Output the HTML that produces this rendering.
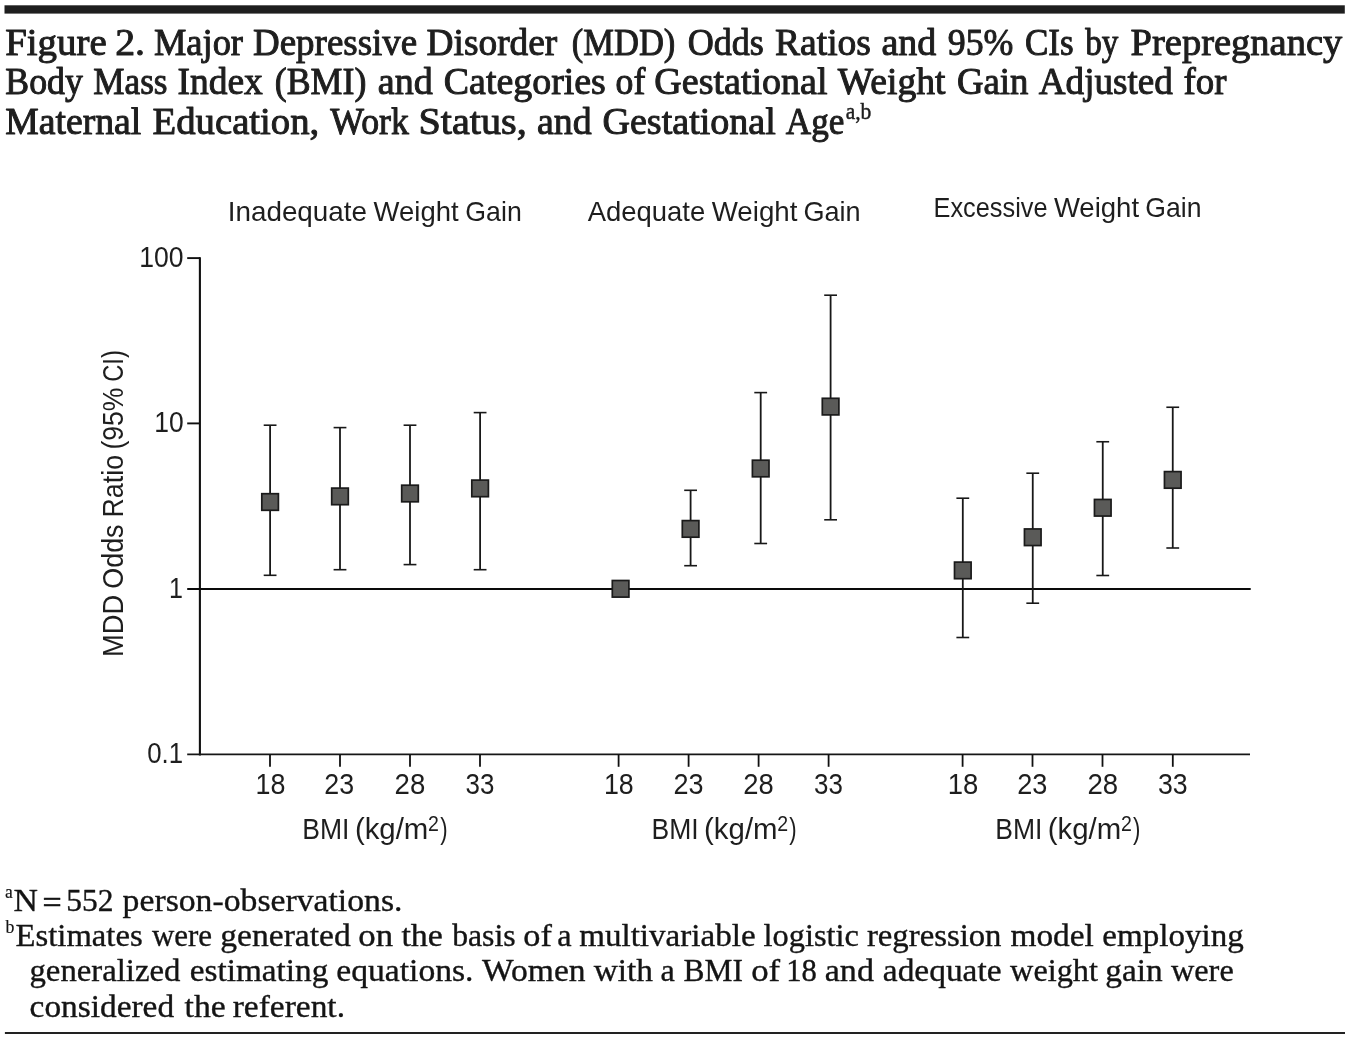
<!DOCTYPE html>
<html lang="en">
<head>
<meta charset="utf-8">
<title>Figure 2. Major Depressive Disorder (MDD) Odds Ratios</title>
<style>
html,body{margin:0;padding:0;background:#fff;}
body{width:1349px;height:1039px;overflow:hidden;}
svg{display:block;}
text{white-space:pre;}
</style>
</head>
<body>
<svg width="1349" height="1039" viewBox="0 0 1349 1039">
<rect x="0" y="0" width="1349" height="1039" fill="#ffffff"/>
<rect x="4.5" y="5.3" width="1340.3" height="8.3" fill="#1e1e1e"/>
<rect x="4.9" y="1032.1" width="1340.1" height="1.8" fill="#0a0a0a"/>
<g fill="#1e1e1e"><text x="5.18" y="55.1" font-family="'Liberation Serif', serif" font-size="38.7" stroke="#1e1e1e" stroke-width="1.0" stroke-linejoin="round" textLength="101.47" lengthAdjust="spacingAndGlyphs">Figure</text> <text x="115.15" y="55.1" font-family="'Liberation Serif', serif" font-size="38.7" stroke="#1e1e1e" stroke-width="1.0" stroke-linejoin="round" textLength="29.88" lengthAdjust="spacingAndGlyphs">2.</text> <text x="153.95" y="55.1" font-family="'Liberation Serif', serif" font-size="38.7" stroke="#1e1e1e" stroke-width="1.0" stroke-linejoin="round" textLength="89.07" lengthAdjust="spacingAndGlyphs">Major</text> <text x="253.04" y="55.1" font-family="'Liberation Serif', serif" font-size="38.7" stroke="#1e1e1e" stroke-width="1.0" stroke-linejoin="round" textLength="164.15" lengthAdjust="spacingAndGlyphs">Depressive</text> <text x="426.62" y="55.1" font-family="'Liberation Serif', serif" font-size="38.7" stroke="#1e1e1e" stroke-width="1.0" stroke-linejoin="round" textLength="130.70" lengthAdjust="spacingAndGlyphs">Disorder</text> <text x="571.78" y="55.1" font-family="'Liberation Serif', serif" font-size="38.7" stroke="#1e1e1e" stroke-width="1.0" stroke-linejoin="round" textLength="103.53" lengthAdjust="spacingAndGlyphs">(MDD)</text> <text x="687.72" y="55.1" font-family="'Liberation Serif', serif" font-size="38.7" stroke="#1e1e1e" stroke-width="1.0" stroke-linejoin="round" textLength="76.08" lengthAdjust="spacingAndGlyphs">Odds</text> <text x="775.02" y="55.1" font-family="'Liberation Serif', serif" font-size="38.7" stroke="#1e1e1e" stroke-width="1.0" stroke-linejoin="round" textLength="95.94" lengthAdjust="spacingAndGlyphs">Ratios</text> <text x="881.47" y="55.1" font-family="'Liberation Serif', serif" font-size="38.7" stroke="#1e1e1e" stroke-width="1.0" stroke-linejoin="round" textLength="54.80" lengthAdjust="spacingAndGlyphs">and</text> <text x="947.75" y="55.1" font-family="'Liberation Serif', serif" font-size="38.7" stroke="#1e1e1e" stroke-width="1.0" stroke-linejoin="round" textLength="65.58" lengthAdjust="spacingAndGlyphs">95%</text> <text x="1024.96" y="55.1" font-family="'Liberation Serif', serif" font-size="38.7" stroke="#1e1e1e" stroke-width="1.0" stroke-linejoin="round" textLength="48.70" lengthAdjust="spacingAndGlyphs">CIs</text> <text x="1085.30" y="55.1" font-family="'Liberation Serif', serif" font-size="38.7" stroke="#1e1e1e" stroke-width="1.0" stroke-linejoin="round" textLength="33.13" lengthAdjust="spacingAndGlyphs">by</text> <text x="1130.59" y="55.1" font-family="'Liberation Serif', serif" font-size="38.7" stroke="#1e1e1e" stroke-width="1.0" stroke-linejoin="round" textLength="211.66" lengthAdjust="spacingAndGlyphs">Prepregnancy</text></g>
<g fill="#1e1e1e"><text x="5.27" y="94.4" font-family="'Liberation Serif', serif" font-size="38.7" stroke="#1e1e1e" stroke-width="1.0" stroke-linejoin="round" textLength="77.57" lengthAdjust="spacingAndGlyphs">Body</text> <text x="93.29" y="94.4" font-family="'Liberation Serif', serif" font-size="38.7" stroke="#1e1e1e" stroke-width="1.0" stroke-linejoin="round" textLength="74.28" lengthAdjust="spacingAndGlyphs">Mass</text> <text x="177.55" y="94.4" font-family="'Liberation Serif', serif" font-size="38.7" stroke="#1e1e1e" stroke-width="1.0" stroke-linejoin="round" textLength="85.31" lengthAdjust="spacingAndGlyphs">Index</text> <text x="274.72" y="94.4" font-family="'Liberation Serif', serif" font-size="38.7" stroke="#1e1e1e" stroke-width="1.0" stroke-linejoin="round" textLength="91.65" lengthAdjust="spacingAndGlyphs">(BMI)</text> <text x="377.76" y="94.4" font-family="'Liberation Serif', serif" font-size="38.7" stroke="#1e1e1e" stroke-width="1.0" stroke-linejoin="round" textLength="55.00" lengthAdjust="spacingAndGlyphs">and</text> <text x="443.85" y="94.4" font-family="'Liberation Serif', serif" font-size="38.7" stroke="#1e1e1e" stroke-width="1.0" stroke-linejoin="round" textLength="162.02" lengthAdjust="spacingAndGlyphs">Categories</text> <text x="615.54" y="94.4" font-family="'Liberation Serif', serif" font-size="38.7" stroke="#1e1e1e" stroke-width="1.0" stroke-linejoin="round" textLength="29.76" lengthAdjust="spacingAndGlyphs">of</text> <text x="654.34" y="94.4" font-family="'Liberation Serif', serif" font-size="38.7" stroke="#1e1e1e" stroke-width="1.0" stroke-linejoin="round" textLength="173.22" lengthAdjust="spacingAndGlyphs">Gestational</text> <text x="837.86" y="94.4" font-family="'Liberation Serif', serif" font-size="38.7" stroke="#1e1e1e" stroke-width="1.0" stroke-linejoin="round" textLength="107.66" lengthAdjust="spacingAndGlyphs">Weight</text> <text x="956.89" y="94.4" font-family="'Liberation Serif', serif" font-size="38.7" stroke="#1e1e1e" stroke-width="1.0" stroke-linejoin="round" textLength="71.46" lengthAdjust="spacingAndGlyphs">Gain</text> <text x="1038.84" y="94.4" font-family="'Liberation Serif', serif" font-size="38.7" stroke="#1e1e1e" stroke-width="1.0" stroke-linejoin="round" textLength="133.91" lengthAdjust="spacingAndGlyphs">Adjusted</text> <text x="1183.47" y="94.4" font-family="'Liberation Serif', serif" font-size="38.7" stroke="#1e1e1e" stroke-width="1.0" stroke-linejoin="round" textLength="42.96" lengthAdjust="spacingAndGlyphs">for</text></g>
<g fill="#1e1e1e"><text x="5.21" y="134.0" font-family="'Liberation Serif', serif" font-size="38.7" stroke="#1e1e1e" stroke-width="1.0" stroke-linejoin="round" textLength="136.14" lengthAdjust="spacingAndGlyphs">Maternal</text> <text x="152.58" y="134.0" font-family="'Liberation Serif', serif" font-size="38.7" stroke="#1e1e1e" stroke-width="1.0" stroke-linejoin="round" textLength="166.65" lengthAdjust="spacingAndGlyphs">Education,</text> <text x="330.27" y="134.0" font-family="'Liberation Serif', serif" font-size="38.7" stroke="#1e1e1e" stroke-width="1.0" stroke-linejoin="round" textLength="78.63" lengthAdjust="spacingAndGlyphs">Work</text> <text x="418.51" y="134.0" font-family="'Liberation Serif', serif" font-size="38.7" stroke="#1e1e1e" stroke-width="1.0" stroke-linejoin="round" textLength="108.32" lengthAdjust="spacingAndGlyphs">Status,</text> <text x="537.07" y="134.0" font-family="'Liberation Serif', serif" font-size="38.7" stroke="#1e1e1e" stroke-width="1.0" stroke-linejoin="round" textLength="54.59" lengthAdjust="spacingAndGlyphs">and</text> <text x="602.44" y="134.0" font-family="'Liberation Serif', serif" font-size="38.7" stroke="#1e1e1e" stroke-width="1.0" stroke-linejoin="round" textLength="173.42" lengthAdjust="spacingAndGlyphs">Gestational</text> <text x="785.86" y="134.0" font-family="'Liberation Serif', serif" font-size="38.7" stroke="#1e1e1e" stroke-width="1.0" stroke-linejoin="round" textLength="58.56" lengthAdjust="spacingAndGlyphs">Age</text></g>
<g fill="#1e1e1e"><text x="845.69" y="119.4" font-family="'Liberation Serif', serif" font-size="24" stroke="#1e1e1e" stroke-width="0.5" stroke-linejoin="round" textLength="25.68" lengthAdjust="spacingAndGlyphs">a,b</text></g>
<g fill="#1e1e1e"><text x="227.73" y="220.8" font-family="'Liberation Sans', sans-serif" font-size="28.5" textLength="139.31" lengthAdjust="spacingAndGlyphs">Inadequate</text> <text x="373.58" y="220.8" font-family="'Liberation Sans', sans-serif" font-size="28.5" textLength="85.02" lengthAdjust="spacingAndGlyphs">Weight</text> <text x="465.36" y="220.8" font-family="'Liberation Sans', sans-serif" font-size="28.5" textLength="56.38" lengthAdjust="spacingAndGlyphs">Gain</text></g>
<g fill="#1e1e1e"><text x="587.75" y="220.8" font-family="'Liberation Sans', sans-serif" font-size="28.5" textLength="117.47" lengthAdjust="spacingAndGlyphs">Adequate</text> <text x="711.68" y="220.8" font-family="'Liberation Sans', sans-serif" font-size="28.5" textLength="85.72" lengthAdjust="spacingAndGlyphs">Weight</text> <text x="803.44" y="220.8" font-family="'Liberation Sans', sans-serif" font-size="28.5" textLength="57.22" lengthAdjust="spacingAndGlyphs">Gain</text></g>
<g fill="#1e1e1e"><text x="933.52" y="217.3" font-family="'Liberation Sans', sans-serif" font-size="28.5" textLength="114.00" lengthAdjust="spacingAndGlyphs">Excessive</text> <text x="1053.88" y="217.3" font-family="'Liberation Sans', sans-serif" font-size="28.5" textLength="85.22" lengthAdjust="spacingAndGlyphs">Weight</text> <text x="1145.36" y="217.3" font-family="'Liberation Sans', sans-serif" font-size="28.5" textLength="56.16" lengthAdjust="spacingAndGlyphs">Gain</text></g>
<line x1="199.9" y1="257.2" x2="199.9" y2="755.4" stroke="#101010" stroke-width="2.1"/>
<line x1="187.2" y1="754.4" x2="1250" y2="754.4" stroke="#161616" stroke-width="1.9"/>
<line x1="187.2" y1="258.1" x2="200" y2="258.1" stroke="#101010" stroke-width="1.9"/>
<line x1="187.2" y1="423.4" x2="200" y2="423.4" stroke="#101010" stroke-width="1.9"/>
<line x1="187.2" y1="589.0" x2="1250.7" y2="589.0" stroke="#0a0a0a" stroke-width="1.9"/>
<line x1="270" y1="754.4" x2="270" y2="766.8" stroke="#101010" stroke-width="1.8"/>
<line x1="340" y1="754.4" x2="340" y2="766.8" stroke="#101010" stroke-width="1.8"/>
<line x1="410" y1="754.4" x2="410" y2="766.8" stroke="#101010" stroke-width="1.8"/>
<line x1="480" y1="754.4" x2="480" y2="766.8" stroke="#101010" stroke-width="1.8"/>
<line x1="618.6" y1="754.4" x2="618.6" y2="766.8" stroke="#101010" stroke-width="1.8"/>
<line x1="688.6" y1="754.4" x2="688.6" y2="766.8" stroke="#101010" stroke-width="1.8"/>
<line x1="758.6" y1="754.4" x2="758.6" y2="766.8" stroke="#101010" stroke-width="1.8"/>
<line x1="828.6" y1="754.4" x2="828.6" y2="766.8" stroke="#101010" stroke-width="1.8"/>
<line x1="962.6" y1="754.4" x2="962.6" y2="766.8" stroke="#101010" stroke-width="1.8"/>
<line x1="1032.5" y1="754.4" x2="1032.5" y2="766.8" stroke="#101010" stroke-width="1.8"/>
<line x1="1102.5" y1="754.4" x2="1102.5" y2="766.8" stroke="#101010" stroke-width="1.8"/>
<line x1="1172.8" y1="754.4" x2="1172.8" y2="766.8" stroke="#101010" stroke-width="1.8"/>
<g fill="#1e1e1e"><text x="139.27" y="266.7" font-family="'Liberation Sans', sans-serif" font-size="28.8" textLength="44.36" lengthAdjust="spacingAndGlyphs">100</text></g>
<g fill="#1e1e1e"><text x="154.28" y="432.1" font-family="'Liberation Sans', sans-serif" font-size="28.8" textLength="29.45" lengthAdjust="spacingAndGlyphs">10</text></g>
<g fill="#1e1e1e"><text x="169.09" y="597.9" font-family="'Liberation Sans', sans-serif" font-size="28.8" textLength="13.93" lengthAdjust="spacingAndGlyphs">1</text></g>
<g fill="#1e1e1e"><text x="147.19" y="763.1" font-family="'Liberation Sans', sans-serif" font-size="28.8" textLength="35.87" lengthAdjust="spacingAndGlyphs">0.1</text></g>
<g fill="#1e1e1e"><text x="255.45" y="793.6" font-family="'Liberation Sans', sans-serif" font-size="30" textLength="29.92" lengthAdjust="spacingAndGlyphs">18</text> <text x="324.35" y="793.6" font-family="'Liberation Sans', sans-serif" font-size="30" textLength="29.83" lengthAdjust="spacingAndGlyphs">23</text> <text x="394.61" y="793.6" font-family="'Liberation Sans', sans-serif" font-size="30" textLength="30.69" lengthAdjust="spacingAndGlyphs">28</text> <text x="465.51" y="793.6" font-family="'Liberation Sans', sans-serif" font-size="30" textLength="28.83" lengthAdjust="spacingAndGlyphs">33</text> <text x="603.96" y="793.6" font-family="'Liberation Sans', sans-serif" font-size="30" textLength="29.81" lengthAdjust="spacingAndGlyphs">18</text> <text x="673.44" y="793.6" font-family="'Liberation Sans', sans-serif" font-size="30" textLength="30.05" lengthAdjust="spacingAndGlyphs">23</text> <text x="743.32" y="793.6" font-family="'Liberation Sans', sans-serif" font-size="30" textLength="30.47" lengthAdjust="spacingAndGlyphs">28</text> <text x="814.01" y="793.6" font-family="'Liberation Sans', sans-serif" font-size="30" textLength="28.83" lengthAdjust="spacingAndGlyphs">33</text> <text x="947.71" y="793.6" font-family="'Liberation Sans', sans-serif" font-size="30" textLength="30.59" lengthAdjust="spacingAndGlyphs">18</text> <text x="1017.24" y="793.6" font-family="'Liberation Sans', sans-serif" font-size="30" textLength="30.15" lengthAdjust="spacingAndGlyphs">23</text> <text x="1087.51" y="793.6" font-family="'Liberation Sans', sans-serif" font-size="30" textLength="30.69" lengthAdjust="spacingAndGlyphs">28</text> <text x="1157.88" y="793.6" font-family="'Liberation Sans', sans-serif" font-size="30" textLength="29.69" lengthAdjust="spacingAndGlyphs">33</text></g>
<g fill="#1e1e1e"><text x="302.33" y="839.4" font-family="'Liberation Sans', sans-serif" font-size="30.0" textLength="47.12" lengthAdjust="spacingAndGlyphs">BMI</text> <text x="354.88" y="839.4" font-family="'Liberation Sans', sans-serif" font-size="30.0" textLength="73.46" lengthAdjust="spacingAndGlyphs">(kg/m</text><text x="428.02" y="830.6" font-family="'Liberation Sans', sans-serif" font-size="21.5" textLength="10.87" lengthAdjust="spacingAndGlyphs">2</text><text x="440.17" y="839.4" font-family="'Liberation Sans', sans-serif" font-size="30.0" textLength="7.41" lengthAdjust="spacingAndGlyphs">)</text></g>
<g fill="#1e1e1e"><text x="651.53" y="839.4" font-family="'Liberation Sans', sans-serif" font-size="30.0" textLength="47.12" lengthAdjust="spacingAndGlyphs">BMI</text> <text x="704.08" y="839.4" font-family="'Liberation Sans', sans-serif" font-size="30.0" textLength="73.46" lengthAdjust="spacingAndGlyphs">(kg/m</text><text x="777.22" y="830.6" font-family="'Liberation Sans', sans-serif" font-size="21.5" textLength="10.87" lengthAdjust="spacingAndGlyphs">2</text><text x="789.37" y="839.4" font-family="'Liberation Sans', sans-serif" font-size="30.0" textLength="7.41" lengthAdjust="spacingAndGlyphs">)</text></g>
<g fill="#1e1e1e"><text x="995.23" y="839.4" font-family="'Liberation Sans', sans-serif" font-size="30.0" textLength="47.12" lengthAdjust="spacingAndGlyphs">BMI</text> <text x="1047.78" y="839.4" font-family="'Liberation Sans', sans-serif" font-size="30.0" textLength="73.46" lengthAdjust="spacingAndGlyphs">(kg/m</text><text x="1120.92" y="830.6" font-family="'Liberation Sans', sans-serif" font-size="21.5" textLength="10.87" lengthAdjust="spacingAndGlyphs">2</text><text x="1133.07" y="839.4" font-family="'Liberation Sans', sans-serif" font-size="30.0" textLength="7.41" lengthAdjust="spacingAndGlyphs">)</text></g>
<g fill="#1e1e1e"><text transform="translate(123.0,654.8) rotate(-90)" x="-2.24" y="0" font-family="'Liberation Sans', sans-serif" font-size="29.4" textLength="62.14" lengthAdjust="spacingAndGlyphs">MDD</text> <text transform="translate(123.0,587.5) rotate(-90)" x="-1.28" y="0" font-family="'Liberation Sans', sans-serif" font-size="29.4" textLength="64.35" lengthAdjust="spacingAndGlyphs">Odds</text> <text transform="translate(123.0,515.3) rotate(-90)" x="-2.20" y="0" font-family="'Liberation Sans', sans-serif" font-size="29.4" textLength="62.52" lengthAdjust="spacingAndGlyphs">Ratio</text> <text transform="translate(123.0,447.9) rotate(-90)" x="-1.65" y="0" font-family="'Liberation Sans', sans-serif" font-size="29.4" textLength="61.99" lengthAdjust="spacingAndGlyphs">(95%</text> <text transform="translate(123.0,380.6) rotate(-90)" x="-1.21" y="0" font-family="'Liberation Sans', sans-serif" font-size="29.4" textLength="31.68" lengthAdjust="spacingAndGlyphs">CI)</text></g>
<line x1="270.1" y1="425.2" x2="270.1" y2="575.3" stroke="#181818" stroke-width="1.8"/>
<line x1="263.70000000000005" y1="425.2" x2="276.5" y2="425.2" stroke="#181818" stroke-width="1.6"/>
<line x1="263.70000000000005" y1="575.3" x2="276.5" y2="575.3" stroke="#181818" stroke-width="1.6"/>
<rect x="261.80" y="493.70" width="16.6" height="16.6" fill="#5a5a58" stroke="#1a1a1a" stroke-width="1.7"/>
<line x1="340" y1="427.6" x2="340" y2="569.7" stroke="#181818" stroke-width="1.8"/>
<line x1="333.6" y1="427.6" x2="346.4" y2="427.6" stroke="#181818" stroke-width="1.6"/>
<line x1="333.6" y1="569.7" x2="346.4" y2="569.7" stroke="#181818" stroke-width="1.6"/>
<rect x="331.70" y="488.10" width="16.6" height="16.6" fill="#5a5a58" stroke="#1a1a1a" stroke-width="1.7"/>
<line x1="410" y1="425.2" x2="410" y2="564.6" stroke="#181818" stroke-width="1.8"/>
<line x1="403.6" y1="425.2" x2="416.4" y2="425.2" stroke="#181818" stroke-width="1.6"/>
<line x1="403.6" y1="564.6" x2="416.4" y2="564.6" stroke="#181818" stroke-width="1.6"/>
<rect x="401.70" y="485.20" width="16.6" height="16.6" fill="#5a5a58" stroke="#1a1a1a" stroke-width="1.7"/>
<line x1="480.1" y1="412.6" x2="480.1" y2="569.7" stroke="#181818" stroke-width="1.8"/>
<line x1="473.70000000000005" y1="412.6" x2="486.5" y2="412.6" stroke="#181818" stroke-width="1.6"/>
<line x1="473.70000000000005" y1="569.7" x2="486.5" y2="569.7" stroke="#181818" stroke-width="1.6"/>
<rect x="471.80" y="480.10" width="16.6" height="16.6" fill="#5a5a58" stroke="#1a1a1a" stroke-width="1.7"/>
<rect x="612.30" y="580.50" width="16.6" height="16.6" fill="#5a5a58" stroke="#1a1a1a" stroke-width="1.7"/>
<line x1="690.6" y1="490.3" x2="690.6" y2="565.7" stroke="#181818" stroke-width="1.8"/>
<line x1="684.2" y1="490.3" x2="697.0" y2="490.3" stroke="#181818" stroke-width="1.6"/>
<line x1="684.2" y1="565.7" x2="697.0" y2="565.7" stroke="#181818" stroke-width="1.6"/>
<rect x="682.30" y="520.60" width="16.6" height="16.6" fill="#5a5a58" stroke="#1a1a1a" stroke-width="1.7"/>
<line x1="760.7" y1="392.6" x2="760.7" y2="543.5" stroke="#181818" stroke-width="1.8"/>
<line x1="754.3000000000001" y1="392.6" x2="767.1" y2="392.6" stroke="#181818" stroke-width="1.6"/>
<line x1="754.3000000000001" y1="543.5" x2="767.1" y2="543.5" stroke="#181818" stroke-width="1.6"/>
<rect x="752.40" y="460.20" width="16.6" height="16.6" fill="#5a5a58" stroke="#1a1a1a" stroke-width="1.7"/>
<line x1="830.6" y1="295.2" x2="830.6" y2="519.8" stroke="#181818" stroke-width="1.8"/>
<line x1="824.2" y1="295.2" x2="837.0" y2="295.2" stroke="#181818" stroke-width="1.6"/>
<line x1="824.2" y1="519.8" x2="837.0" y2="519.8" stroke="#181818" stroke-width="1.6"/>
<rect x="822.30" y="398.30" width="16.6" height="16.6" fill="#5a5a58" stroke="#1a1a1a" stroke-width="1.7"/>
<line x1="962.8" y1="498.2" x2="962.8" y2="637.5" stroke="#181818" stroke-width="1.8"/>
<line x1="956.4" y1="498.2" x2="969.1999999999999" y2="498.2" stroke="#181818" stroke-width="1.6"/>
<line x1="956.4" y1="637.5" x2="969.1999999999999" y2="637.5" stroke="#181818" stroke-width="1.6"/>
<rect x="954.50" y="562.10" width="16.6" height="16.6" fill="#5a5a58" stroke="#1a1a1a" stroke-width="1.7"/>
<line x1="1032.75" y1="473.2" x2="1032.75" y2="603.2" stroke="#181818" stroke-width="1.8"/>
<line x1="1026.35" y1="473.2" x2="1039.15" y2="473.2" stroke="#181818" stroke-width="1.6"/>
<line x1="1026.35" y1="603.2" x2="1039.15" y2="603.2" stroke="#181818" stroke-width="1.6"/>
<rect x="1024.45" y="528.95" width="16.6" height="16.6" fill="#5a5a58" stroke="#1a1a1a" stroke-width="1.7"/>
<line x1="1102.75" y1="441.75" x2="1102.75" y2="575.5" stroke="#181818" stroke-width="1.8"/>
<line x1="1096.35" y1="441.75" x2="1109.15" y2="441.75" stroke="#181818" stroke-width="1.6"/>
<line x1="1096.35" y1="575.5" x2="1109.15" y2="575.5" stroke="#181818" stroke-width="1.6"/>
<rect x="1094.45" y="499.45" width="16.6" height="16.6" fill="#5a5a58" stroke="#1a1a1a" stroke-width="1.7"/>
<line x1="1172.75" y1="407.25" x2="1172.75" y2="548" stroke="#181818" stroke-width="1.8"/>
<line x1="1166.35" y1="407.25" x2="1179.15" y2="407.25" stroke="#181818" stroke-width="1.6"/>
<line x1="1166.35" y1="548" x2="1179.15" y2="548" stroke="#181818" stroke-width="1.6"/>
<rect x="1164.45" y="471.60" width="16.6" height="16.6" fill="#5a5a58" stroke="#1a1a1a" stroke-width="1.7"/>
<g fill="#141414"><text x="4.99" y="898.0" font-family="'Liberation Serif', serif" font-size="18" stroke="#141414" stroke-width="0.2" stroke-linejoin="round" textLength="7.75" lengthAdjust="spacingAndGlyphs">a</text></g>
<g fill="#141414"><text x="13.60" y="910.8" font-family="'Liberation Serif', serif" font-size="30.5" stroke="#141414" stroke-width="0.35" stroke-linejoin="round" textLength="24.40" lengthAdjust="spacingAndGlyphs">N</text></g>
<g fill="#141414"><text x="42.41" y="913.2" font-family="'Liberation Serif', serif" font-size="30.5" stroke="#141414" stroke-width="0.6" stroke-linejoin="round" textLength="19.15" lengthAdjust="spacingAndGlyphs">=</text></g>
<g fill="#141414"><text x="66.35" y="910.8" font-family="'Liberation Serif', serif" font-size="30.5" stroke="#141414" stroke-width="0.35" stroke-linejoin="round" textLength="47.22" lengthAdjust="spacingAndGlyphs">552</text> <text x="122.63" y="910.8" font-family="'Liberation Serif', serif" font-size="30.5" stroke="#141414" stroke-width="0.35" stroke-linejoin="round" textLength="279.81" lengthAdjust="spacingAndGlyphs">person-observations.</text></g>
<g fill="#141414"><text x="5.60" y="932.6" font-family="'Liberation Serif', serif" font-size="18" stroke="#141414" stroke-width="0.2" stroke-linejoin="round" textLength="8.88" lengthAdjust="spacingAndGlyphs">b</text></g>
<g fill="#141414"><text x="15.63" y="946.0" font-family="'Liberation Serif', serif" font-size="30.5" stroke="#141414" stroke-width="0.35" stroke-linejoin="round" textLength="126.97" lengthAdjust="spacingAndGlyphs">Estimates</text> <text x="151.94" y="946.0" font-family="'Liberation Serif', serif" font-size="30.5" stroke="#141414" stroke-width="0.35" stroke-linejoin="round" textLength="60.15" lengthAdjust="spacingAndGlyphs">were</text> <text x="220.33" y="946.0" font-family="'Liberation Serif', serif" font-size="30.5" stroke="#141414" stroke-width="0.35" stroke-linejoin="round" textLength="130.40" lengthAdjust="spacingAndGlyphs">generated</text> <text x="358.35" y="946.0" font-family="'Liberation Serif', serif" font-size="30.5" stroke="#141414" stroke-width="0.35" stroke-linejoin="round" textLength="34.80" lengthAdjust="spacingAndGlyphs">on</text> <text x="401.44" y="946.0" font-family="'Liberation Serif', serif" font-size="30.5" stroke="#141414" stroke-width="0.35" stroke-linejoin="round" textLength="41.46" lengthAdjust="spacingAndGlyphs">the</text> <text x="452.18" y="946.0" font-family="'Liberation Serif', serif" font-size="30.5" stroke="#141414" stroke-width="0.35" stroke-linejoin="round" textLength="63.40" lengthAdjust="spacingAndGlyphs">basis</text> <text x="523.27" y="946.0" font-family="'Liberation Serif', serif" font-size="30.5" stroke="#141414" stroke-width="0.35" stroke-linejoin="round" textLength="28.56" lengthAdjust="spacingAndGlyphs">of</text> <text x="557.34" y="946.0" font-family="'Liberation Serif', serif" font-size="30.5" stroke="#141414" stroke-width="0.35" stroke-linejoin="round" textLength="14.33" lengthAdjust="spacingAndGlyphs">a</text> <text x="579.18" y="946.0" font-family="'Liberation Serif', serif" font-size="30.5" stroke="#141414" stroke-width="0.35" stroke-linejoin="round" textLength="176.49" lengthAdjust="spacingAndGlyphs">multivariable</text> <text x="763.63" y="946.0" font-family="'Liberation Serif', serif" font-size="30.5" stroke="#141414" stroke-width="0.35" stroke-linejoin="round" textLength="95.29" lengthAdjust="spacingAndGlyphs">logistic</text> <text x="866.92" y="946.0" font-family="'Liberation Serif', serif" font-size="30.5" stroke="#141414" stroke-width="0.35" stroke-linejoin="round" textLength="134.60" lengthAdjust="spacingAndGlyphs">regression</text> <text x="1010.47" y="946.0" font-family="'Liberation Serif', serif" font-size="30.5" stroke="#141414" stroke-width="0.35" stroke-linejoin="round" textLength="83.42" lengthAdjust="spacingAndGlyphs">model</text> <text x="1102.38" y="946.0" font-family="'Liberation Serif', serif" font-size="30.5" stroke="#141414" stroke-width="0.35" stroke-linejoin="round" textLength="141.47" lengthAdjust="spacingAndGlyphs">employing</text></g>
<g fill="#141414"><text x="29.47" y="981.3" font-family="'Liberation Serif', serif" font-size="30.5" stroke="#141414" stroke-width="0.35" stroke-linejoin="round" textLength="150.96" lengthAdjust="spacingAndGlyphs">generalized</text> <text x="189.67" y="981.3" font-family="'Liberation Serif', serif" font-size="30.5" stroke="#141414" stroke-width="0.35" stroke-linejoin="round" textLength="138.79" lengthAdjust="spacingAndGlyphs">estimating</text> <text x="336.26" y="981.3" font-family="'Liberation Serif', serif" font-size="30.5" stroke="#141414" stroke-width="0.35" stroke-linejoin="round" textLength="137.28" lengthAdjust="spacingAndGlyphs">equations.</text> <text x="482.14" y="981.3" font-family="'Liberation Serif', serif" font-size="30.5" stroke="#141414" stroke-width="0.35" stroke-linejoin="round" textLength="103.49" lengthAdjust="spacingAndGlyphs">Women</text> <text x="593.74" y="981.3" font-family="'Liberation Serif', serif" font-size="30.5" stroke="#141414" stroke-width="0.35" stroke-linejoin="round" textLength="59.32" lengthAdjust="spacingAndGlyphs">with</text> <text x="660.64" y="981.3" font-family="'Liberation Serif', serif" font-size="30.5" stroke="#141414" stroke-width="0.35" stroke-linejoin="round" textLength="14.33" lengthAdjust="spacingAndGlyphs">a</text> <text x="683.57" y="981.3" font-family="'Liberation Serif', serif" font-size="30.5" stroke="#141414" stroke-width="0.35" stroke-linejoin="round" textLength="59.36" lengthAdjust="spacingAndGlyphs">BMI</text> <text x="751.15" y="981.3" font-family="'Liberation Serif', serif" font-size="30.5" stroke="#141414" stroke-width="0.35" stroke-linejoin="round" textLength="28.97" lengthAdjust="spacingAndGlyphs">of</text> <text x="786.19" y="981.3" font-family="'Liberation Serif', serif" font-size="30.5" stroke="#141414" stroke-width="0.35" stroke-linejoin="round" textLength="30.61" lengthAdjust="spacingAndGlyphs">18</text> <text x="824.78" y="981.3" font-family="'Liberation Serif', serif" font-size="30.5" stroke="#141414" stroke-width="0.35" stroke-linejoin="round" textLength="49.16" lengthAdjust="spacingAndGlyphs">and</text> <text x="882.80" y="981.3" font-family="'Liberation Serif', serif" font-size="30.5" stroke="#141414" stroke-width="0.35" stroke-linejoin="round" textLength="118.78" lengthAdjust="spacingAndGlyphs">adequate</text> <text x="1010.14" y="981.3" font-family="'Liberation Serif', serif" font-size="30.5" stroke="#141414" stroke-width="0.35" stroke-linejoin="round" textLength="87.77" lengthAdjust="spacingAndGlyphs">weight</text> <text x="1105.24" y="981.3" font-family="'Liberation Serif', serif" font-size="30.5" stroke="#141414" stroke-width="0.35" stroke-linejoin="round" textLength="57.39" lengthAdjust="spacingAndGlyphs">gain</text> <text x="1170.94" y="981.3" font-family="'Liberation Serif', serif" font-size="30.5" stroke="#141414" stroke-width="0.35" stroke-linejoin="round" textLength="62.80" lengthAdjust="spacingAndGlyphs">were</text></g>
<g fill="#141414"><text x="29.60" y="1016.8" font-family="'Liberation Serif', serif" font-size="30.5" stroke="#141414" stroke-width="0.35" stroke-linejoin="round" textLength="144.53" lengthAdjust="spacingAndGlyphs">considered</text> <text x="184.55" y="1016.8" font-family="'Liberation Serif', serif" font-size="30.5" stroke="#141414" stroke-width="0.35" stroke-linejoin="round" textLength="41.15" lengthAdjust="spacingAndGlyphs">the</text> <text x="232.71" y="1016.8" font-family="'Liberation Serif', serif" font-size="30.5" stroke="#141414" stroke-width="0.35" stroke-linejoin="round" textLength="112.32" lengthAdjust="spacingAndGlyphs">referent.</text></g>
</svg>
</body>
</html>
